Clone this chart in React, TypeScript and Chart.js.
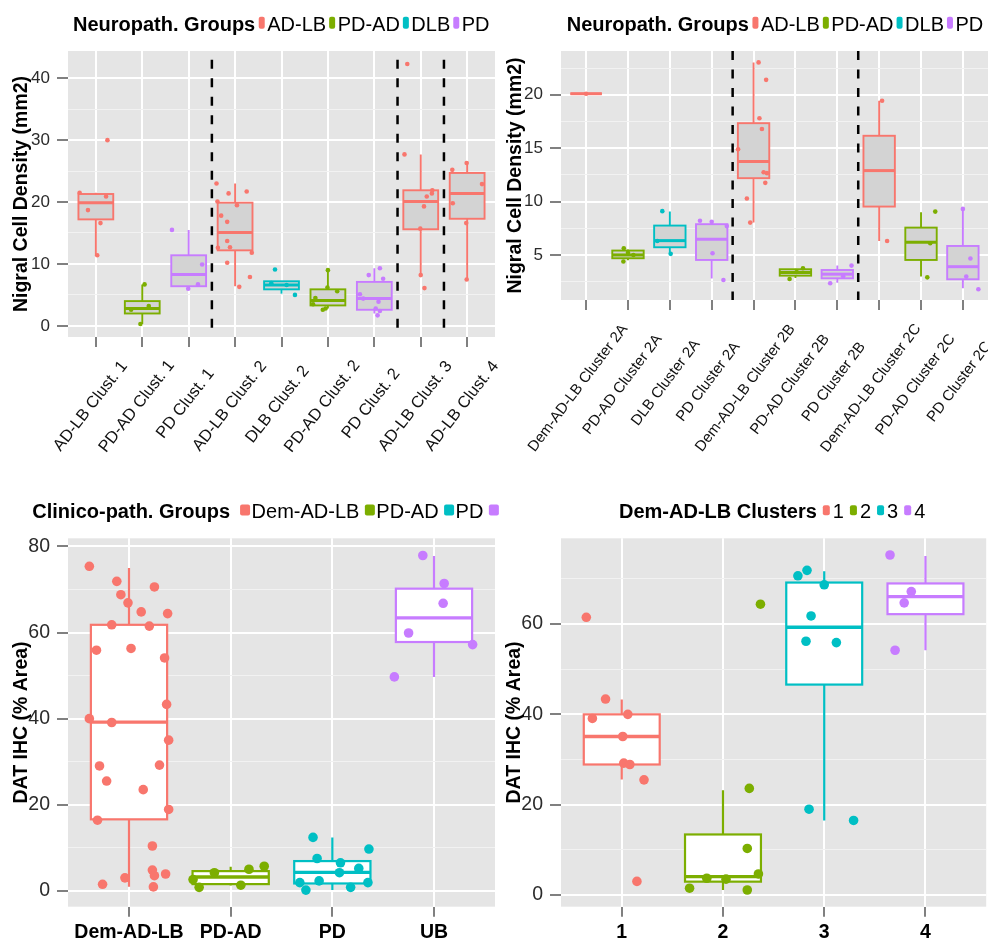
import React, { useEffect, useRef } from 'react';
import { Chart, registerables } from 'chart.js';

Chart.register(...registerables);

const FONT = "'Liberation Sans', Arial, Helvetica, sans-serif";
const HUE = ['#F8766D', '#7CAE00', '#00BFC4', '#C77CFF'];
const TICK_GREY = '#808080';

// ---------------- Panel 1 : Neuropath. groups, clusters 1-4 ----------------
const p1Categories = ['AD-LB Clust. 1', 'PD-AD Clust. 1', 'PD Clust. 1', 'AD-LB Clust. 2', 'DLB Clust. 2', 'PD-AD Clust. 2', 'PD Clust. 2', 'AD-LB Clust. 3', 'AD-LB Clust. 4'];
const p1Groups = ['AD-LB', 'PD-AD', 'PD', 'AD-LB', 'DLB', 'PD-AD', 'PD', 'AD-LB', 'AD-LB'];
const p1Legend = ['AD-LB', 'PD-AD', 'DLB', 'PD'];
const p1Lo = [11.4, 0.3, 6.0, 6.4, 5.2, 2.8, 2.0, 8.2, 7.5];
const p1Q1 = [17.2, 2.0, 6.4, 12.2, 5.9, 3.3, 2.6, 15.6, 17.3];
const p1Med = [19.9, 2.8, 8.3, 15.1, 6.6, 4.1, 4.4, 20.1, 21.4];
const p1Q3 = [21.3, 4.0, 11.4, 19.9, 7.2, 5.9, 7.1, 21.9, 24.7];
const p1Hi = [21.5, 6.7, 15.5, 23.0, 7.2, 9.1, 9.3, 27.7, 26.3];
const p1PtCat = [
  1, 1, 1, 1, 1, 1,
  2, 2, 2, 2,
  3, 3, 3, 3,
  4, 4, 4, 4, 4, 4, 4, 4, 4, 4, 4, 4, 4, 4,
  5, 5, 5, 5,
  6, 6, 6, 6, 6, 6, 6,
  7, 7, 7, 7, 7, 7, 7, 7, 7,
  8, 8, 8, 8, 8, 8, 8, 8, 8,
  9, 9, 9, 9, 9, 9,
];
const p1PtJit = [
  -0.35, -0.17, 0.03, 0.10, 0.22, 0.25,
  0.05, -0.04, 0.14, -0.24,
  -0.36, -0.01, 0.20, 0.29,
  -0.40, -0.38, -0.30, -0.17, -0.17, -0.11, -0.37, -0.17, -0.14, 0.04, 0.09, 0.25, 0.32, 0.36,
  -0.14, 0.29, 0.11, -0.22,
  0.0, -0.27, -0.05, -0.01, 0.20, -0.32, -0.11,
  0.12, -0.12, 0.19, -0.31, -0.24, 0.09, 0.03, 0.07, 0.12,
  -0.29, -0.35, 0.25, 0.13, 0.24, 0.07, -0.01, 0.0, 0.08,
  -0.32, -0.01, -0.31, 0.32, -0.02, -0.01,
];
const p1PtVal = [
  21.5, 18.7, 11.4, 16.6, 20.9, 30.0,
  6.7, 0.3, 3.2, 2.6,
  15.5, 6.0, 6.7, 9.9,
  23.0, 20.1, 17.8, 16.8, 13.7, 12.7, 12.6, 10.2, 21.4, 19.5, 6.3, 21.7, 7.9, 11.8,
  9.1, 5.0, 6.6, 6.9,
  9.0, 4.5, 2.8, 6.2, 5.6, 3.5, 2.6,
  9.3, 8.2, 7.6, 5.1, 4.4, 3.9, 2.8, 1.7, 2.4,
  42.3, 27.7, 21.9, 20.9, 21.4, 19.3, 15.7, 8.2, 6.1,
  25.2, 26.3, 19.8, 22.9, 16.6, 7.5,
];
const p1Separators = [3.5, 7.5, 8.5];
const p1YMajor = [0, 10, 20, 30, 40];
const p1YMinor = [5, 15, 25, 35];

// ---------------- Panel 2 : Neuropath. groups, clusters 2A-2C ----------------
const p2Categories = ['Dem-AD-LB Cluster 2A', 'PD-AD Cluster 2A', 'DLB Cluster 2A', 'PD Cluster 2A', 'Dem-AD-LB Cluster 2B', 'PD-AD Cluster 2B', 'PD Cluster 2B', 'Dem-AD-LB Cluster 2C', 'PD-AD Cluster 2C', 'PD Cluster 2C'];
const p2Groups = ['AD-LB', 'PD-AD', 'DLB', 'PD', 'AD-LB', 'PD-AD', 'PD', 'AD-LB', 'PD-AD', 'PD'];
const p2Legend = ['AD-LB', 'PD-AD', 'DLB', 'PD'];
const p2Lo = [20.1, 4.5, 5.1, 2.8, 8.03, 2.85, 2.4, 6.3, 2.97, 1.88];
const p2Q1 = [20.1, 4.69, 5.72, 4.53, 12.19, 3.06, 2.81, 9.53, 4.53, 2.72];
const p2Med = [20.1, 5.0, 6.34, 6.47, 13.75, 3.36, 3.2, 12.9, 6.19, 3.9];
const p2Q3 = [20.1, 5.41, 7.75, 7.88, 17.34, 3.66, 3.59, 16.16, 7.56, 5.84];
const p2Hi = [20.1, 5.5, 9.06, 8.2, 23.03, 3.7, 4.0, 19.44, 9.0, 9.31];
const p2PtCat = [
  1,
  2, 2, 2, 2,
  3, 3, 3,
  4, 4, 4, 4, 4,
  5, 5, 5, 5, 5, 5, 5, 5, 5, 5,
  6, 6, 6,
  7, 7, 7,
  8, 8,
  9, 9, 9,
  10, 10, 10, 10,
];
const p2PtJit = [
  0.0,
  -0.11, -0.10, 0.13, 0.0,
  -0.18, 0.02, -0.30,
  -0.28, 0.0, 0.36, 0.02, 0.28,
  0.12, 0.30, 0.14, 0.20, -0.37, 0.24, 0.32, 0.28, -0.16, -0.08,
  -0.14, 0.18, 0.03,
  -0.17, 0.34, 0.14,
  0.07, 0.19,
  0.34, 0.15, 0.22,
  0.0, 0.18, 0.08, 0.37,
];
const p2PtVal = [
  20.1,
  4.38, 5.63, 5.0, 5.2,
  9.1, 5.1, 6.3,
  8.2, 8.1, 7.7, 5.16, 2.66,
  23.03, 21.4, 17.8, 16.8, 14.9, 12.75, 12.66, 11.75, 10.28, 8.03,
  2.75, 3.75, 3.4,
  2.35, 4.0, 3.0,
  19.44, 6.3,
  9.06, 2.9, 6.1,
  9.31, 4.66, 2.97, 1.78,
];
const p2Separators = [4.5, 7.5];
const p2YMajor = [5, 10, 15, 20];
const p2YMinor = [2.5, 7.5, 12.5, 17.5, 22.5];

// ---------------- Panel 3 : Clinico-path. groups, DAT IHC ----------------
const p3Categories = ['Dem-AD-LB', 'PD-AD', 'PD', 'UB'];
const p3Groups = ['Dem-AD-LB', 'PD-AD', 'PD', 'UB'];
const p3Legend = ['Dem-AD-LB', 'PD-AD', 'PD', 'UB'];
const p3Lo = [0.93, 1.2, 0.16, 49.7];
const p3Q1 = [16.6, 1.55, 1.7, 57.8];
const p3Med = [39.2, 3.2, 4.27, 63.4];
const p3Q3 = [61.8, 4.57, 6.9, 70.2];
const p3Hi = [75.0, 5.6, 12.4, 77.8];
const p3PtCat = [
  1, 1, 1, 1, 1, 1, 1, 1, 1, 1, 1, 1, 1, 1, 1, 1, 1, 1, 1, 1, 1, 1, 1, 1, 1, 1, 1, 1, 1,
  2, 2, 2, 2, 2, 2,
  3, 3, 3, 3, 3, 3, 3, 3, 3, 3, 3,
  4, 4, 4, 4, 4, 4,
];
const p3PtJit = [
  -0.39, -0.12, -0.08, -0.01, 0.25, 0.12, 0.38, -0.17, 0.20, -0.32, 0.02, 0.35, 0.37, -0.39, -0.17,
  0.39, -0.29, 0.30, -0.22, 0.14, 0.39, -0.31, 0.23, 0.23, 0.25, 0.36, -0.04, -0.26, 0.24,
  -0.37, -0.31, -0.16, 0.10, 0.18, 0.33,
  -0.19, -0.15, 0.08, 0.36, 0.26, 0.07, -0.32, -0.13, -0.26, 0.18, 0.35,
  -0.11, 0.10, 0.09, -0.25, 0.38, -0.39,
];
const p3PtVal = [
  75.4, 71.9, 68.8, 66.9, 70.6, 64.8, 64.4, 61.8, 61.5, 55.9, 56.3, 54.1, 43.3, 40.0, 39.1,
  35.0, 29.0, 29.2, 25.5, 23.5, 18.9, 16.4, 10.4, 4.8, 3.5, 3.9, 3.0, 1.5, 0.9,
  2.6, 0.8, 4.2, 1.3, 5.0, 5.7,
  12.4, 7.5, 6.5, 9.7, 5.2, 4.2, 1.9, 2.3, 0.16, 0.8, 1.9,
  77.9, 71.4, 66.8, 59.9, 57.2, 49.7,
];
const p3YMajor = [0, 20, 40, 60, 80];
const p3YMinor = [10, 30, 50, 70];

// ---------------- Panel 4 : Dem-AD-LB clusters, DAT IHC ----------------
const p4Categories = ['1', '2', '3', '4'];
const p4Groups = ['1', '2', '3', '4'];
const p4Legend = ['1', '2', '3', '4'];
const p4Lo = [25.6, 1.1, 16.5, 54.2];
const p4Q1 = [28.9, 2.95, 46.6, 62.2];
const p4Med = [35.1, 4.06, 59.3, 66.1];
const p4Q3 = [40.0, 13.4, 69.2, 69.0];
const p4Hi = [43.3, 23.2, 71.7, 75.1];
const p4PtCat = [
  1, 1, 1, 1, 1, 1, 1, 1, 1,
  2, 2, 2, 2, 2, 2, 2, 2,
  3, 3, 3, 3, 3, 3, 3, 3,
  4, 4, 4, 4,
];
const p4PtJit = [
  -0.35, -0.16, -0.29, 0.06, 0.01, 0.02, 0.08, 0.22, 0.15,
  0.37, 0.26, 0.24, 0.35, -0.33, 0.24, -0.16, 0.03,
  -0.26, -0.17, 0.0, -0.13, -0.18, 0.12, -0.15, 0.29,
  -0.35, -0.14, -0.21, -0.30,
];
const p4PtVal = [
  61.5, 43.4, 39.1, 40.0, 35.1, 29.2, 28.9, 25.5, 3.0,
  64.4, 23.6, 10.3, 4.65, 1.5, 1.1, 3.7, 3.5,
  70.7, 71.9, 68.7, 61.8, 56.2, 55.9, 19.0, 16.5,
  75.3, 67.2, 64.7, 54.2,
];
const p4YMajor = [0, 20, 40, 60];
const p4YMinor = [10, 30, 50, 70];

// ---------------- panel specifications (layout + styling) ----------------
type Spec = {
  canvas: { left: number; top: number; width: number; height: number };
  plot: { left: number; top: number; right: number; bottom: number };
  categories: string[]; groups: string[]; legendItems: string[]; legendTitle: string;
  lo: number[]; q1: number[]; med: number[]; q3: number[]; hi: number[];
  ptCat: number[]; ptJit: number[]; ptVal: number[];
  yMin: number; yMax: number; yMajor: number[]; yMinor: number[];
  separators: number[]; sepTop?: number;
  yTitle: string; yTitleX: number;
  legend: { x: number; baseline: number; keyW: number; keyH: number; gapTitleKey: number; gapKeyText: number; gapTextKey: number };
  xLabels: { mode: 'rotated' | 'flat'; size: number; angle?: number; hjust?: number; dx?: number; dy?: number; pad?: number };
  yTickSize: number; pointRadius: number; boxLW: number; medLW: number; boxFill: string;
};

const PANELS: Spec[] = [
  {
    canvas: { left: 0, top: 0, width: 500, height: 490 },
    plot: { left: 68, top: 51, right: 495, bottom: 337 },
    categories: p1Categories, groups: p1Groups, legendItems: p1Legend, legendTitle: 'Neuropath. Groups',
    lo: p1Lo, q1: p1Q1, med: p1Med, q3: p1Q3, hi: p1Hi,
    ptCat: p1PtCat, ptJit: p1PtJit, ptVal: p1PtVal,
    yMin: -1.8, yMax: 44.4, yMajor: p1YMajor, yMinor: p1YMinor,
    separators: p1Separators, sepTop: 43,
    yTitle: 'Nigral Cell Density (mm2)', yTitleX: 21.5,
    legend: { x: 73, baseline: 30.7, keyW: 6, keyH: 12, gapTitleKey: 3.5, gapKeyText: 2.5, gapTextKey: 3 },
    xLabels: { mode: 'rotated', size: 16.5, angle: 52, hjust: 0.63, dx: 3.5, dy: 58 },
    yTickSize: 17, pointRadius: 2.3, boxLW: 1.9, medLW: 3, boxFill: '#D3D3D3',
  },
  {
    canvas: { left: 500, top: 0, width: 491, height: 490 },
    plot: { left: 561, top: 51, right: 988, bottom: 300 },
    categories: p2Categories, groups: p2Groups, legendItems: p2Legend, legendTitle: 'Neuropath. Groups',
    lo: p2Lo, q1: p2Q1, med: p2Med, q3: p2Q3, hi: p2Hi,
    ptCat: p2PtCat, ptJit: p2PtJit, ptVal: p2PtVal,
    yMin: 0.78, yMax: 24.1, yMajor: p2YMajor, yMinor: p2YMinor,
    separators: p2Separators,
    yTitle: 'Nigral Cell Density (mm2)', yTitleX: 15.8,
    legend: { x: 66.7, baseline: 30.7, keyW: 6, keyH: 12, gapTitleKey: 3.5, gapKeyText: 2.5, gapTextKey: 3 },
    xLabels: { mode: 'rotated', size: 15, angle: 53, hjust: 0.63, dx: 4, dy: 72 },
    yTickSize: 17, pointRadius: 2.3, boxLW: 1.9, medLW: 3, boxFill: '#D3D3D3',
  },
  {
    canvas: { left: 0, top: 490, width: 500, height: 452 },
    plot: { left: 68, top: 538.3, right: 495, bottom: 906.7 },
    categories: p3Categories, groups: p3Groups, legendItems: p3Legend, legendTitle: 'Clinico-path. Groups',
    lo: p3Lo, q1: p3Q1, med: p3Med, q3: p3Q3, hi: p3Hi,
    ptCat: p3PtCat, ptJit: p3PtJit, ptVal: p3PtVal,
    yMin: -3.7, yMax: 81.9, yMajor: p3YMajor, yMinor: p3YMinor,
    separators: [],
    yTitle: 'DAT IHC (% Area)', yTitleX: 21.5,
    legend: { x: 32.3, baseline: 28, keyW: 10, keyH: 11, gapTitleKey: 10, gapKeyText: 1.5, gapTextKey: 5.5 },
    xLabels: { mode: 'flat', size: 19.5, pad: 4 },
    yTickSize: 19.5, pointRadius: 4.8, boxLW: 2.2, medLW: 3.3, boxFill: '#FFFFFF',
  },
  {
    canvas: { left: 500, top: 490, width: 491, height: 452 },
    plot: { left: 561, top: 538.3, right: 988, bottom: 906.7 },
    categories: p4Categories, groups: p4Groups, legendItems: p4Legend, legendTitle: 'Dem-AD-LB Clusters',
    lo: p4Lo, q1: p4Q1, med: p4Med, q3: p4Q3, hi: p4Hi,
    ptCat: p4PtCat, ptJit: p4PtJit, ptVal: p4PtVal,
    yMin: -2.6, yMax: 79.0, yMajor: p4YMajor, yMinor: p4YMinor,
    separators: [],
    yTitle: 'DAT IHC (% Area)', yTitleX: 14.7,
    legend: { x: 119, baseline: 28.3, keyW: 7, keyH: 10, gapTitleKey: 6, gapKeyText: 3, gapTextKey: 6 },
    xLabels: { mode: 'flat', size: 19.5, pad: 4 },
    yTickSize: 19.5, pointRadius: 4.8, boxLW: 2.2, medLW: 3.3, boxFill: '#FFFFFF',
  },
];

function buildChart(canvas: HTMLCanvasElement, s: Spec) {
  const colorOf = (g: string) => HUE[s.legendItems.indexOf(g)];
  const nCat = s.categories.length;
  const yW = s.plot.left - s.canvas.left - 2;
  const padding = {
    left: 2,
    top: s.plot.top - s.canvas.top,
    right: s.canvas.left + s.canvas.width - s.plot.right,
    bottom: 0,
  };
  const xH = s.canvas.top + s.canvas.height - s.plot.bottom;
  const points = s.ptCat.map((c, i) => ({ x: c + s.ptJit[i], y: s.ptVal[i] }));
  const pointColors = s.ptCat.map((c) => colorOf(s.groups[c - 1]));
  const isMajor = (v: any) => s.yMajor.indexOf(v) >= 0;

  const plugin = {
    id: 'ggpanel',
    beforeDraw(chart: any) {
      const { ctx, chartArea: a } = chart;
      ctx.save();
      ctx.fillStyle = '#FFFFFF';
      ctx.fillRect(0, 0, chart.width, chart.height);
      ctx.fillStyle = '#E5E5E5';
      ctx.fillRect(a.left, a.top, a.right - a.left, a.bottom - a.top);
      ctx.restore();
    },
    beforeDatasetsDraw(chart: any) {
      const { ctx, chartArea: a } = chart;
      const xs = chart.scales.x;
      const ys = chart.scales.y;
      ctx.save();
      ctx.beginPath();
      ctx.rect(a.left, a.top, a.right - a.left, a.bottom - a.top);
      ctx.clip();
      for (let i = 0; i < nCat; i++) {
        const col = colorOf(s.groups[i]);
        const xc = xs.getPixelForValue(i + 1);
        const xl = xs.getPixelForValue(i + 1 - 0.375);
        const xr = xs.getPixelForValue(i + 1 + 0.375);
        const yLo = ys.getPixelForValue(s.lo[i]);
        const yQ1 = ys.getPixelForValue(s.q1[i]);
        const yMed = ys.getPixelForValue(s.med[i]);
        const yQ3 = ys.getPixelForValue(s.q3[i]);
        const yHi = ys.getPixelForValue(s.hi[i]);
        ctx.strokeStyle = col;
        ctx.lineWidth = s.boxLW;
        ctx.beginPath();
        ctx.moveTo(xc, yQ3); ctx.lineTo(xc, yHi);
        ctx.moveTo(xc, yQ1); ctx.lineTo(xc, yLo);
        ctx.stroke();
        ctx.fillStyle = s.boxFill;
        ctx.fillRect(xl, yQ3, xr - xl, yQ1 - yQ3);
        ctx.strokeRect(xl, yQ3, xr - xl, yQ1 - yQ3);
        ctx.lineWidth = s.medLW;
        ctx.beginPath();
        ctx.moveTo(xl, yMed); ctx.lineTo(xr, yMed);
        ctx.stroke();
      }
      ctx.strokeStyle = '#000000';
      ctx.lineWidth = 2.5;
      ctx.setLineDash([9, 9.5]);
      for (const v of s.separators) {
        const x = xs.getPixelForValue(v);
        const yTop = s.sepTop !== undefined ? ys.getPixelForValue(s.sepTop) : a.top;
        ctx.beginPath();
        ctx.moveTo(x, yTop); ctx.lineTo(x, a.bottom);
        ctx.stroke();
      }
      ctx.restore();
    },
    afterDraw(chart: any) {
      const { ctx, chartArea: a } = chart;
      ctx.save();
      // y axis title
      ctx.fillStyle = '#000000';
      ctx.font = `bold 19.5px ${FONT}`;
      ctx.textAlign = 'center';
      ctx.textBaseline = 'middle';
      ctx.translate(s.yTitleX, (a.top + a.bottom) / 2);
      ctx.rotate(-Math.PI / 2);
      ctx.fillText(s.yTitle, 0, 0);
      ctx.restore();

      // legend (title + keys + labels, one row)
      ctx.save();
      const L = s.legend;
      let x = L.x;
      ctx.textBaseline = 'alphabetic';
      ctx.textAlign = 'left';
      ctx.fillStyle = '#000000';
      ctx.font = `bold 20px ${FONT}`;
      ctx.fillText(s.legendTitle, x, L.baseline);
      x += ctx.measureText(s.legendTitle).width + L.gapTitleKey;
      ctx.font = `20px ${FONT}`;
      s.legendItems.forEach((lab, i) => {
        ctx.fillStyle = HUE[i];
        ctx.beginPath();
        ctx.roundRect(x, L.baseline - 8 - L.keyH / 2, L.keyW, L.keyH, 2);
        ctx.fill();
        x += L.keyW + L.gapKeyText;
        ctx.fillStyle = '#000000';
        ctx.fillText(lab, x, L.baseline);
        x += ctx.measureText(lab).width + L.gapTextKey;
      });
      ctx.restore();

      // rotated category labels
      if (s.xLabels.mode === 'rotated') {
        const xs = chart.scales.x;
        const X = s.xLabels;
        ctx.save();
        ctx.font = `${X.size}px ${FONT}`;
        ctx.fillStyle = '#111111';
        ctx.textBaseline = 'middle';
        ctx.textAlign = 'left';
        s.categories.forEach((lab, i) => {
          const w = ctx.measureText(lab).width;
          ctx.save();
          ctx.translate(xs.getPixelForValue(i + 1) + (X.dx || 0), a.bottom + (X.dy || 0));
          ctx.rotate(-((X.angle || 45) * Math.PI) / 180);
          ctx.fillText(lab, -(X.hjust || 0) * w, 0);
          ctx.restore();
        });
        ctx.restore();
      }
    },
  };

  return new Chart(canvas, {
    type: 'scatter',
    data: {
      datasets: [
        {
          data: points,
          pointBackgroundColor: pointColors,
          pointBorderWidth: 0,
          pointRadius: s.pointRadius,
          pointHoverRadius: s.pointRadius,
          showLine: false,
        } as any,
      ],
    },
    options: {
      responsive: false,
      maintainAspectRatio: false,
      animation: false,
      devicePixelRatio: 1,
      events: [],
      layout: { padding },
      plugins: { legend: { display: false }, tooltip: { enabled: false }, title: { display: false } },
      scales: {
        x: {
          type: 'linear',
          min: 0.4,
          max: nCat + 0.6,
          afterBuildTicks: (sc: any) => {
            sc.ticks = s.categories.map((_, i) => ({ value: i + 1 }));
          },
          afterFit: (sc: any) => {
            sc.height = xH;
          },
          grid: { color: '#FFFFFF', lineWidth: 2, tickLength: 10, tickColor: TICK_GREY, tickWidth: 2 },
          border: { display: false },
          ticks: {
            display: s.xLabels.mode === 'flat',
            autoSkip: false,
            maxRotation: 0,
            minRotation: 0,
            padding: s.xLabels.pad || 0,
            color: '#000000',
            font: { family: FONT, size: s.xLabels.size, weight: 'bold' },
            callback: (v: any) => s.categories[Math.round(v) - 1] ?? '',
          },
        },
        y: {
          type: 'linear',
          min: s.yMin,
          max: s.yMax,
          afterBuildTicks: (sc: any) => {
            sc.ticks = [...s.yMajor, ...s.yMinor].sort((a, b) => a - b).map((v) => ({ value: v }));
          },
          afterFit: (sc: any) => {
            sc.width = yW;
          },
          grid: {
            color: (c: any) => (isMajor(c.tick && c.tick.value) ? '#FFFFFF' : '#F2F2F2'),
            lineWidth: (c: any) => (isMajor(c.tick && c.tick.value) ? 2 : 1),
            tickLength: 11,
            tickColor: (c: any) => (isMajor(c.tick && c.tick.value) ? TICK_GREY : 'rgba(0,0,0,0)'),
            tickWidth: 2,
          },
          border: { display: false },
          ticks: {
            autoSkip: false,
            padding: 7,
            color: '#2B2B2B',
            font: { family: FONT, size: s.yTickSize },
            callback: (v: any) => (isMajor(v) ? String(v) : ''),
          },
        },
      },
    } as any,
    plugins: [plugin],
  });
}

export default function App() {
  const r0 = useRef<HTMLCanvasElement>(null);
  const r1 = useRef<HTMLCanvasElement>(null);
  const r2 = useRef<HTMLCanvasElement>(null);
  const r3 = useRef<HTMLCanvasElement>(null);
  const refs = [r0, r1, r2, r3];

  useEffect(() => {
    const charts = PANELS.map((p, i) => buildChart(refs[i].current as HTMLCanvasElement, p));
    return () => charts.forEach((c) => c.destroy());
  }, []);

  return (
    <div style={{ position: 'absolute', left: 0, top: 0, width: 988, height: 942, overflow: 'hidden', background: '#FFFFFF' }}>
      {PANELS.map((p, i) => (
        <canvas
          key={i}
          ref={refs[i]}
          width={p.canvas.width}
          height={p.canvas.height}
          style={{ position: 'absolute', left: p.canvas.left, top: p.canvas.top, width: p.canvas.width, height: p.canvas.height }}
        />
      ))}
    </div>
  );
}
